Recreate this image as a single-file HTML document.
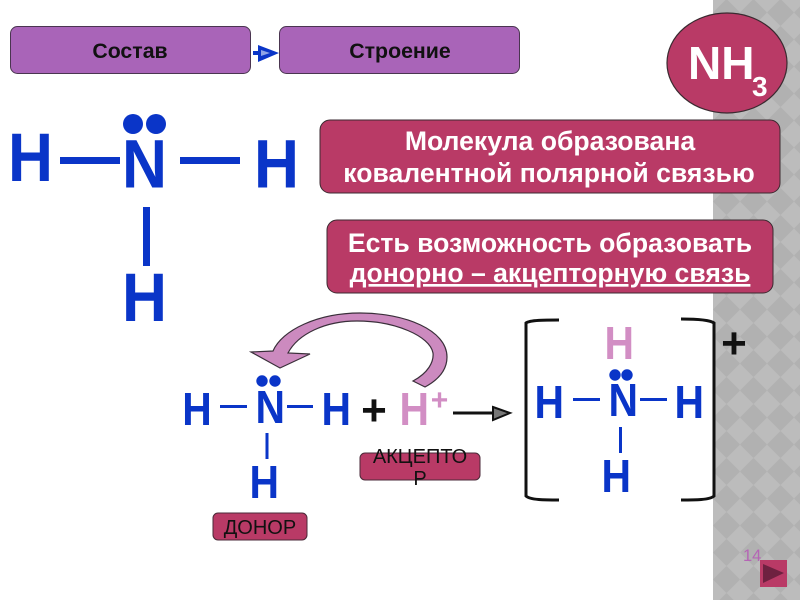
<!DOCTYPE html>
<html><head><meta charset="utf-8"><style>
html,body{margin:0;padding:0;background:#fff}
svg{display:block;filter:blur(.35px)}
text{font-family:"Liberation Sans",sans-serif}
.b{font-weight:bold}
</style></head><body>
<svg width="800" height="600" viewBox="0 0 800 600" xmlns="http://www.w3.org/2000/svg">
<defs>
<pattern id="d" x="713" y="-1" width="27" height="27" patternUnits="userSpaceOnUse">
<rect width="27" height="27" fill="#bcbcbc"/>
<path d="M13.5 0L27 13.5L13.5 27L0 13.5Z" fill="#b1b1b1"/>
</pattern>
</defs>
<rect width="800" height="600" fill="#fff"/>
<rect x="713" y="0" width="87" height="600" fill="url(#d)"/>

<rect x="10.5" y="26.5" width="240" height="47" rx="7" fill="#a964b8" stroke="#4a3550" stroke-width="1"/>
<rect x="279.5" y="26.5" width="240" height="47" rx="7" fill="#a964b8" stroke="#4a3550" stroke-width="1"/>
<text x="130" y="58" class="b" font-size="21.3" text-anchor="middle" fill="#111">Состав</text>
<text x="400" y="58" class="b" font-size="21.3" text-anchor="middle" fill="#111">Строение</text>
<path d="M253 53H260" stroke="#0a35c8" stroke-width="4"/>
<path d="M258 45L279 53L258 62Z" fill="#0a35c8"/>
<path d="M261 50L270 53L261 56Z" fill="#8fa4e6"/>

<ellipse cx="727" cy="63" rx="60" ry="50" fill="#b93a66" stroke="#3a2a30" stroke-width="1.2"/>
<text x="688" y="79" class="b" font-size="46" fill="#fff">NH</text>
<text x="752" y="96" class="b" font-size="28" fill="#fff">3</text>

<rect x="320" y="120" width="460" height="73" rx="10" fill="#b93a66" stroke="#3a2a30" stroke-width="1"/>
<text x="550" y="150" class="b" font-size="26.6" text-anchor="middle" fill="#fff">Молекула образована</text>
<text x="549" y="182" class="b" font-size="26.6" text-anchor="middle" fill="#fff">ковалентной полярной связью</text>
<rect x="327" y="220" width="446" height="73" rx="10" fill="#b93a66" stroke="#3a2a30" stroke-width="1"/>
<text x="550" y="252" class="b" font-size="26.6" text-anchor="middle" fill="#fff">Есть возможность образовать</text>
<text x="550" y="282" class="b" font-size="26.6" text-anchor="middle" fill="#fff" text-decoration="underline">донорно – акцепторную связь</text>

<g fill="#0a35c8" class="b">
<text x="8" y="181" font-size="69" textLength="45" lengthAdjust="spacingAndGlyphs">H</text>
<text x="122" y="187.5" font-size="69" textLength="45" lengthAdjust="spacingAndGlyphs">N</text>
<text x="254" y="187.5" font-size="69" textLength="45" lengthAdjust="spacingAndGlyphs">H</text>
<text x="122" y="321" font-size="69" textLength="45" lengthAdjust="spacingAndGlyphs">H</text>
<circle cx="133" cy="124" r="10"/><circle cx="156" cy="124" r="10"/>
<rect x="60" y="157" width="60" height="7"/>
<rect x="180" y="157" width="60" height="7"/>
<rect x="143" y="207" width="7" height="59"/>

<text x="182.2" y="425" font-size="46" textLength="29.5" lengthAdjust="spacingAndGlyphs">H</text>
<text x="255.5" y="423" font-size="46" textLength="29.5" lengthAdjust="spacingAndGlyphs">N</text>
<text x="321.5" y="425" font-size="46" textLength="29.5" lengthAdjust="spacingAndGlyphs">H</text>
<text x="249.5" y="498" font-size="46" textLength="29.5" lengthAdjust="spacingAndGlyphs">H</text>
<circle cx="262" cy="381" r="5.7"/><circle cx="275" cy="381" r="5.7"/>
<rect x="220" y="405" width="27" height="3"/>
<rect x="287" y="405" width="26" height="3"/>
<rect x="265.5" y="433" width="3" height="26"/>

<text x="534.5" y="418" font-size="46" textLength="29.5" lengthAdjust="spacingAndGlyphs">H</text>
<text x="608.5" y="416" font-size="46" textLength="29.5" lengthAdjust="spacingAndGlyphs">N</text>
<text x="674.5" y="418" font-size="46" textLength="29.5" lengthAdjust="spacingAndGlyphs">H</text>
<text x="601.5" y="492" font-size="46" textLength="29.5" lengthAdjust="spacingAndGlyphs">H</text>
<circle cx="615" cy="375" r="5.7"/><circle cx="627" cy="375" r="5.7"/>
<rect x="573" y="398" width="27" height="3"/>
<rect x="640" y="398" width="27" height="3"/>
<rect x="619" y="427" width="3" height="26"/>
</g>

<text x="604.5" y="359" font-weight="bold" font-size="46" fill="#d28ec4" textLength="29.5" lengthAdjust="spacingAndGlyphs">H</text>
<text x="399.5" y="425" font-weight="bold" font-size="46" fill="#d28ec4" textLength="29.5" lengthAdjust="spacingAndGlyphs">H</text>
<text x="439.5" y="410" class="b" font-size="30" fill="#d28ec4" text-anchor="middle">+</text>
<text x="374" y="425" class="b" font-size="44" fill="#111" text-anchor="middle">+</text>
<text x="734" y="358" class="b" font-size="44" fill="#111" text-anchor="middle">+</text>

<path d="M413 381C428 373 434 362 433 353C430 336 395 321 357 321C325 321 298 334 288 353L310 354L280 368L251 352L273 351C282 330 318 313 360 313C405 313 447 330 447 357C447 370 438 380 425 387Z" fill="#cc8abf" stroke="#3a2f3a" stroke-width="1.2"/>

<path d="M453 413H493" stroke="#111" stroke-width="3"/>
<path d="M493 407L510 413L493 420Z" fill="#777" stroke="#111" stroke-width="2"/>

<rect x="360" y="453" width="120" height="27" rx="5" fill="#b93a66" stroke="#4a2a38" stroke-width="1"/>
<text x="420" y="463" font-size="20" text-anchor="middle" fill="#111">АКЦЕПТО</text>
<text x="420" y="485" font-size="20" text-anchor="middle" fill="#111">Р</text>
<rect x="213" y="513" width="94" height="27" rx="5" fill="#b93a66" stroke="#4a2a38" stroke-width="1"/>
<text x="260" y="534" font-size="20" text-anchor="middle" fill="#111">ДОНОР</text>

<path d="M559 320C545 320 530 320 526 323V496C530 500 545 500 559 500" fill="none" stroke="#111" stroke-width="3"/>
<path d="M681 319C695 319 710 320 714 323V496C710 500 695 500 681 500" fill="none" stroke="#111" stroke-width="3"/>

<text x="743" y="561" font-size="16.5" fill="#b565b5">14</text>
<rect x="760" y="560" width="27" height="27" fill="#b93a66"/>
<path d="M763 564L784 573L763 583Z" fill="#6e2140"/>
</svg>
</body></html>
